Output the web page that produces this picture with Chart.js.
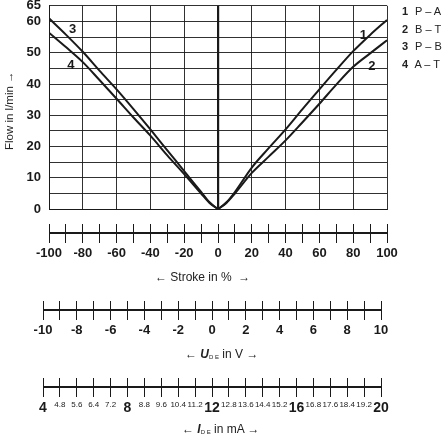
<!DOCTYPE html>
<html>
<head>
<meta charset="utf-8">
<script src="https://cdn.jsdelivr.net/npm/chart.js@4"></script>
<style>
	body { margin: 0; background: #fff; font-family: 'Liberation Sans', sans-serif; }
	#wrap { position: relative; width: 445px; height: 440px; overflow: hidden; }
	canvas { position: absolute; left: 0; }
	.t { position: absolute; font-size: 12px; color: #222; white-space: nowrap; }
	.t sub { font-size: 6px; vertical-align: -1px; }
	#legend { position: absolute; left: 402px; top: 3px; font-size: 11px; line-height: 17.5px; color: #222; white-space: nowrap; }
	#legend b { display: inline-block; width: 10px; }
</style>
</head>
<body>
<div id="wrap">
	<canvas id="main" style="top:-10px" width="445" height="235"></canvas>
	<canvas id="stroke" style="top:221px" width="445" height="40"></canvas>
	<canvas id="volt" style="top:298px" width="445" height="40"></canvas>
	<canvas id="curr" style="top:375px" width="445" height="40"></canvas>
	<div class="t" style="left:155px;top:270px">← Stroke in %&nbsp; →</div>
	<div class="t" style="left:185px;top:347px">← <b><i>U</i></b><sub>D E</sub> in V →</div>
	<div class="t" style="left:182px;top:422px">← <b><i>I</i></b><sub>D E</sub> in mA →</div>
	<div class="t" style="left:3px;top:150px;transform:rotate(-90deg);transform-origin:0 0;font-size:11.5px">Flow in l/min →</div>
	<div id="legend">
		<div><b>1</b> P – A</div>
		<div><b>2</b> B – T</div>
		<div><b>3</b> P – B</div>
		<div><b>4</b> A – T</div>
	</div>
</div>
<script>
'use strict';

// stroke in %
const strokeRight = [0, 5, 10, 20, 30, 40, 50, 60, 70, 80, 90, 100];
const strokeLeft = [-100, -90, -80, -70, -60, -50, -40, -30, -20, -10, -5, 0];
// flow in l/min
const flowPA = [0, 2.2, 5.5, 13.3, 19.5, 25.5, 32, 38.3, 44.5, 50.5, 55.7, 60.5];
const flowBT = [0, 2, 5, 11.6, 16.8, 22, 27.8, 33.7, 39.8, 45.5, 49.8, 54];
const flowPB = [61, 55.8, 50.3, 44.2, 38.3, 32, 25.5, 18.8, 12.2, 5.5, 2.2, 0];
const flowAT = [56.4, 51.8, 47, 41.2, 35.3, 29.3, 23.5, 17.2, 11.2, 5, 2, 0];

const flowTicks = [0, 5, 10, 15, 20, 25, 30, 35, 40, 45, 50, 55, 60, 65];
const flowLabels = [0, 10, 20, 30, 40, 50, 60, 65];
const strokeTicks = [-100, -90, -80, -70, -60, -50, -40, -30, -20, -10, 0, 10, 20, 30, 40, 50, 60, 70, 80, 90, 100];
const strokeLabels = [-100, -80, -60, -40, -20, 0, 20, 40, 60, 80, 100];
const voltTicks = [-10, -9, -8, -7, -6, -5, -4, -3, -2, -1, 0, 1, 2, 3, 4, 5, 6, 7, 8, 9, 10];
const voltLabels = [-10, -8, -6, -4, -2, 0, 2, 4, 6, 8, 10];
const currTicks = [4, 4.8, 5.6, 6.4, 7.2, 8, 8.8, 9.6, 10.4, 11.2, 12, 12.8, 13.6, 14.4, 15.2, 16, 16.8, 17.6, 18.4, 19.2, 20];
const currMajor = [4, 8, 12, 16, 20];

const curveTags = [
	{ text: '1', x: 86, y: 55.5 },
	{ text: '2', x: 91, y: 45.5 },
	{ text: '3', x: -86, y: 57.5 },
	{ text: '4', x: -87, y: 46 }
];

const ink = '#1a1a1a';
const fam = "'Liberation Sans', sans-serif";
const boldFont = { family: fam, size: 13, weight: 'bold' };

function pts(xs, ys) {
	return xs.map((x, i) => ({ x: x, y: ys[i] }));
}

function curve(xs, ys) {
	return { data: pts(xs, ys), borderColor: ink, borderWidth: 2, pointRadius: 0, cubicInterpolationMode: 'monotone', fill: false };
}

const tagPlugin = {
	id: 'tags',
	afterDatasetsDraw(chart) {
		const ctx = chart.ctx;
		ctx.save();
		ctx.font = 'bold 13px ' + fam;
		ctx.fillStyle = ink;
		ctx.textAlign = 'center';
		ctx.textBaseline = 'middle';
		curveTags.forEach(function (t) {
			ctx.fillText(t.text, chart.scales.x.getPixelForValue(t.x), chart.scales.y.getPixelForValue(t.y));
		});
		ctx.restore();
	}
};

new Chart(document.getElementById('main'), {
	type: 'line',
	data: {
		datasets: [
			curve(strokeRight, flowPA),
			curve(strokeRight, flowBT),
			curve(strokeLeft, flowPB),
			curve(strokeLeft, flowAT)
		]
	},
	plugins: [tagPlugin],
	options: {
		responsive: false,
		animation: false,
		layout: { padding: { top: 0, right: 58, bottom: 0, left: 0 } },
		plugins: { legend: { display: false }, tooltip: { enabled: false } },
		scales: {
			x: {
				type: 'linear', min: -100, max: 100,
				afterBuildTicks: (s) => { s.ticks = strokeLabels.map(v => ({ value: v })); },
				afterFit: (s) => { s.height = 0; },
				ticks: { display: false },
				grid: {
					color: ink,
					lineWidth: (c) => c.tick && c.tick.value === 0 ? 2.2 : 0.9,
					drawTicks: false
				},
				border: { color: ink, width: 1 }
			},
			y: {
				min: 0, max: 65,
				afterBuildTicks: (s) => { s.ticks = flowTicks.map(v => ({ value: v })); },
				afterFit: (s) => { s.width = 49; },
				ticks: {
					color: ink, font: boldFont, padding: 8, autoSkip: false,
					callback: (v) => flowLabels.includes(v) ? String(v) : ''
				},
				grid: { color: ink, lineWidth: 0.9, drawTicks: false },
				border: { color: ink, width: 1 }
			}
		}
	}
});

function makeAxis(id, left, min, max, ticks, labelFn, fontFn) {
	new Chart(document.getElementById(id), {
		type: 'scatter',
		data: { datasets: [] },
		options: {
			responsive: false,
			animation: false,
			layout: { padding: { top: 3, right: 445 - left - 338, bottom: 0, left: left } },
			plugins: { legend: { display: false }, tooltip: { enabled: false } },
			scales: {
				x: {
					type: 'linear', min: min, max: max,
					afterBuildTicks: (s) => { s.ticks = ticks.map(v => ({ value: v })); },
					ticks: { color: ink, padding: 3, maxRotation: 0, autoSkip: false, font: fontFn, callback: labelFn },
					grid: { color: ink, lineWidth: 1, drawTicks: false },
					border: { display: false }
				},
				y: {
					min: -1, max: 1,
					afterBuildTicks: (s) => { s.ticks = [{ value: 0 }]; },
					afterFit: (s) => { s.width = 0; },
					ticks: { display: false },
					grid: { color: ink, lineWidth: 2, drawTicks: false },
					border: { display: false }
				}
			}
		}
	});
}

makeAxis('stroke', 49, -100, 100, strokeTicks,
	(v) => strokeLabels.includes(v) ? String(v) : '', boldFont);
makeAxis('volt', 43, -10, 10, voltTicks,
	(v) => voltLabels.includes(v) ? String(v) : '', boldFont);
makeAxis('curr', 43, 4, 20, currTicks,
	(v) => String(Math.round(v * 10) / 10),
	(c) => currMajor.includes(c.tick ? Math.round(c.tick.value * 10) / 10 : 0)
		? { family: fam, size: 14, weight: 'bold' }
		: { family: fam, size: 8, weight: 'normal' });
</script>
</body>
</html>
